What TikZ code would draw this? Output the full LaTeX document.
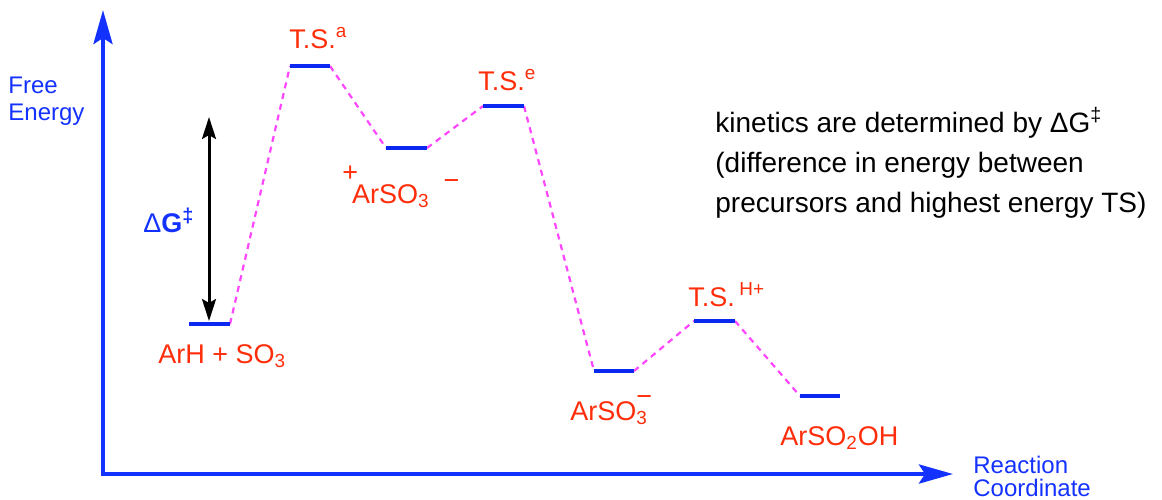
\documentclass[tikz,border=0pt]{standalone}
\usepackage{fontspec}
\setmainfont{Liberation Sans}
\usetikzlibrary{arrows.meta}
\definecolor{axblue}{RGB}{20,50,255}
\definecolor{lvlblue}{RGB}{10,40,240}
\definecolor{lblred}{RGB}{255,45,10}
\definecolor{dashmag}{RGB}{255,70,255}
\tikzset{
  axis/.style={draw=axblue,line width=2pt,-{Stealth[length=17pt,width=9.5pt,inset=3pt]}},
  level/.style={draw=lvlblue,line width=2pt},
  conn/.style={draw=dashmag,line width=1.1pt,dash pattern=on 3pt off 2.5pt},
  lbl/.style={text=lblred,font=\fontsize{13.5}{16}\selectfont,inner sep=0pt,anchor=base west},
  axlbl/.style={text=axblue,font=\fontsize{12}{13.5}\selectfont,inner sep=0pt,align=left,anchor=base west},
}
\begin{document}
\begin{tikzpicture}[x=0.5pt,y=-0.5pt]
\useasboundingbox (0,0) rectangle (1162,499);
% axes
\coordinate (o) at (103,474);
\coordinate (ytop) at (103,10);
\coordinate (xend) at (953,474);
\draw[axis] ([yshift=-1pt]o) -- (ytop);
\draw[axis] ([xshift=-1pt]o) -- (xend);
\node[axlbl] (fe) at (8,120) {Free\\Energy};
\node[axlbl,font=\fontsize{12}{11.5}\selectfont] (rc) at (973,496) {Reaction\\Coordinate};
% levels
\foreach \n/\xa/\xb/\yy in {r/189/230/324, ta/290/330/66, i1/386/427/148, te/483/524/106, i2/594/634/371, th/694/735/321, p/800/840/396}{
  \coordinate (\n1) at (\xa,\yy);
  \coordinate (\n2) at (\xb,\yy);
}
\draw[conn] (r2) -- (ta1);
\draw[conn] (ta2) -- (i11);
\draw[conn] (i12) -- (te1);
\draw[conn] (te2) -- (i21);
\draw[conn] (i22) -- (th1);
\draw[conn] (th2) -- (p1);
\foreach \n in {r,ta,i1,te,i2,th,p}{\draw[level] (\n1) -- (\n2);}
% delta G arrow
\coordinate (dgt) at (209,117);
\coordinate (dgb) at (209,321);
\draw[line width=1.5pt,{Stealth[length=11pt,width=7pt,inset=2pt]}-{Stealth[length=11pt,width=7pt,inset=2pt]}] (dgt) -- (dgb);
\node[inner sep=0pt,anchor=base west,text=axblue,font=\fontsize{13.5}{16}\selectfont] (dg) at (143,232) {Δ\textbf{G\raisebox{5pt}{\fontsize{10}{12}\selectfont ‡}}};
% labels
\node[lbl] (lr) at (158,363) {ArH + SO\textsubscript{3}};
\node[lbl] (lta) at (289,48) {T.S.\textsuperscript{a}};
\node[lbl] (li1) at (342,203) {\raisebox{11pt}{+}\hspace{-3pt}ArSO\textsubscript{3}\hspace{7pt}\raisebox{7pt}{−}};
\node[lbl] (lte) at (478,90) {T.S.\textsuperscript{e}};
\node[lbl] (lth) at (688,306) {T.S.\,\textsuperscript{H+}};
\node[lbl] (li2) at (570,420) {ArSO\rlap{\textsubscript{3}}\raisebox{7.5pt}{−}};
\node[lbl] (lp) at (780,445) {ArSO\textsubscript{2}OH};
% note
\node[inner sep=0pt,anchor=base west,align=left,font=\fontsize{14}{20}\selectfont] (note) at (715,212)
 {kinetics are determined by ΔG\textsuperscript{‡}\\(difference in energy between\\precursors and highest energy TS)};
\end{tikzpicture}
\end{document}
